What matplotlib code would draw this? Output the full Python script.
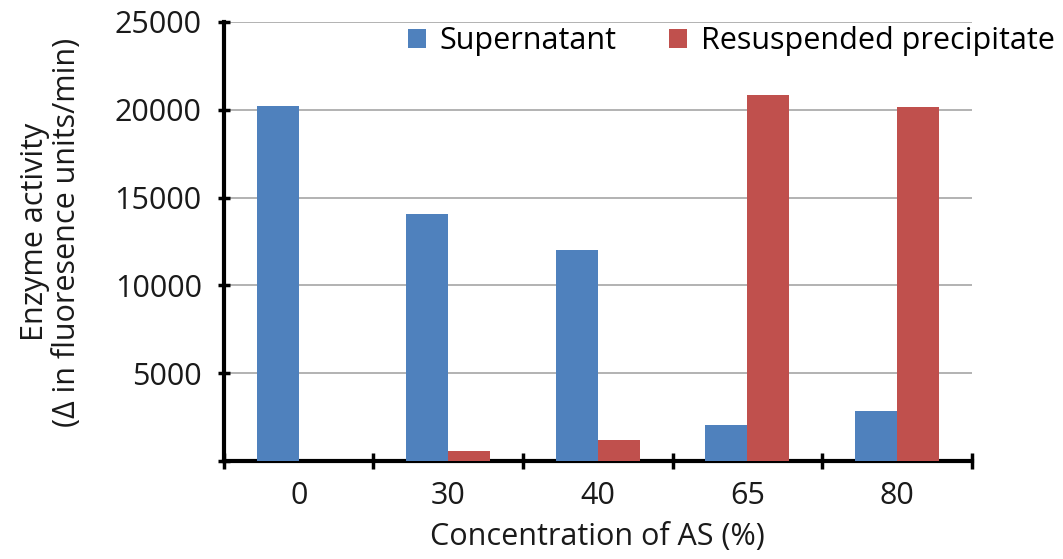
import matplotlib.pyplot as plt
import numpy as np
from matplotlib import rcParams

rcParams['font.family'] = ['Open Sans', 'DejaVu Sans']
rcParams['axes.unicode_minus'] = False

# data
concentrations = ['0', '30', '40', '65', '80']
supernatant = [20200, 14050, 12000, 2030, 2880]
precipitate = [0, 600, 1200, 20850, 20130]

x = np.arange(len(concentrations))
width = 0.28

fig = plt.figure(figsize=(10.63, 5.59), dpi=100)
ax = fig.add_axes([0.2107, 0.175, 0.7033, 0.786])

ax.bar(x - width / 2, supernatant, width, color='#4F81BD', label='Supernatant', zorder=3)
ax.bar(x + width / 2, precipitate, width, color='#C0504D', label='Resuspended precipitate', zorder=3)

ax.set_xlim(-0.5, 4.5)
ax.set_ylim(0, 25000)
ax.set_yticks(np.arange(0, 25001, 5000))
ax.set_yticklabels(['', '5000', '10000', '15000', '20000', '25000'])
ax.yaxis.grid(True, color='#a6a6a6', linewidth=1.2, zorder=0)

# category labels without ticks, ticks on the category boundaries
ax.set_xticks(x)
ax.set_xticklabels(concentrations)
ax.tick_params(axis='x', which='major', length=0, labelsize=22, pad=14, colors='#1a1a1a')
ax.set_xticks(np.arange(-0.5, 5, 1), minor=True)
ax.tick_params(axis='x', which='minor', length=11, width=2.5, direction='inout', color='black')
ax.tick_params(axis='y', length=8, width=2.5, direction='inout', labelsize=22, pad=12, labelcolor='#1a1a1a')

for side in ['top', 'right']:
    ax.spines[side].set_visible(False)
for side in ['left', 'bottom']:
    ax.spines[side].set_linewidth(3)

ax.set_xlabel('Concentration of AS (%)', fontsize=22, color='#1a1a1a', labelpad=8)
fig.text(0.048, 0.585, 'Enzyme activity\n(Δ in fluoresence units/min)', rotation=90,
         ha='center', va='center', fontsize=22, color='#1a1a1a', linespacing=1.1)

ax.legend(loc='upper left', bbox_to_anchor=(0.372, 0.975), bbox_transform=fig.transFigure,
          ncol=2, frameon=False, fontsize=22, handlelength=0.6, handleheight=0.6,
          handletextpad=0.45, columnspacing=1.7, borderaxespad=0)

plt.savefig('out.png', dpi=100)
